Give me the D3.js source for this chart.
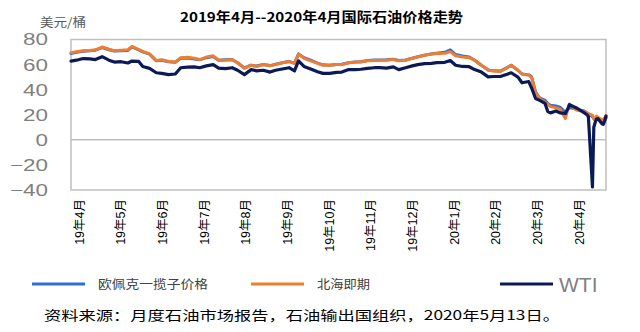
<!DOCTYPE html>
<html><head><meta charset="utf-8">
<script src="https://cdn.jsdelivr.net/npm/d3@7"></script>
<style>
html,body{margin:0;padding:0;background:#fff;}
svg{display:block;}
</style></head>
<body><svg id="c" width="640" height="332"></svg>
<script>
const dates = ["2019-04-01","2019-04-05","2019-04-10","2019-04-15","2019-04-19","2019-04-24","2019-04-29","2019-05-03","2019-05-08","2019-05-13","2019-05-16","2019-05-21","2019-05-24","2019-05-29","2019-06-03","2019-06-07","2019-06-12","2019-06-17","2019-06-21","2019-06-26","2019-07-01","2019-07-05","2019-07-10","2019-07-15","2019-07-19","2019-07-24","2019-07-29","2019-08-02","2019-08-07","2019-08-12","2019-08-16","2019-08-21","2019-08-26","2019-08-30","2019-09-04","2019-09-09","2019-09-13","2019-09-16","2019-09-20","2019-09-25","2019-09-30","2019-10-04","2019-10-09","2019-10-14","2019-10-18","2019-10-23","2019-10-28","2019-11-01","2019-11-06","2019-11-11","2019-11-15","2019-11-20","2019-11-25","2019-11-29","2019-12-04","2019-12-09","2019-12-13","2019-12-18","2019-12-23","2019-12-27","2020-01-02","2020-01-06","2020-01-10","2020-01-15","2020-01-20","2020-01-24","2020-01-29","2020-02-03","2020-02-07","2020-02-12","2020-02-17","2020-02-20","2020-02-25","2020-02-28","2020-03-04","2020-03-06","2020-03-09","2020-03-12","2020-03-16","2020-03-18","2020-03-20","2020-03-24","2020-03-27","2020-03-31","2020-04-02","2020-04-03","2020-04-07","2020-04-09","2020-04-14","2020-04-16","2020-04-17","2020-04-20","2020-04-21","2020-04-22","2020-04-23","2020-04-24","2020-04-27","2020-04-28","2020-04-29","2020-04-30"];

const brent = [69.4,70.3,71,71.3,71.8,74,72.2,71,71.5,71.8,74.5,72,70.5,68.5,63.2,63.8,62.5,62,65.5,65.8,65,64,66,67,63.5,63.5,63.8,61.5,57,59.5,58.5,60,59,60,61.5,62.5,61,68.3,65,63,61,59.5,59.5,60,60,61.5,62,62,63,63.3,63.5,63.5,64,63,63.5,65,66,67.5,68.5,68.8,69,70.3,67,66,65.5,63.5,59.5,55.5,54.8,54.5,57.5,59.5,55.5,52.5,51.5,50,37.5,33,30,28.5,26.5,25.5,24.5,17,25,28.5,24.5,23.5,22.5,21.5,21,19.5,17,16.5,19,18,16,16.3,17.5,19.5];

const opec = [68.8,69.8,70.7,71,71.5,73.5,71.8,70.8,71,71.3,74.2,71.8,70.2,68.3,63,63.5,62.2,61.8,65,65.3,64.5,63.8,65.5,66.5,63.5,63.8,64,61.5,57.3,59.5,58.8,60,59.2,60.3,61.5,62.5,61,68.5,65.5,63.5,61.2,59.8,59.5,60,60.2,61.5,62,62.2,63.2,63.6,63.7,63.8,64.3,63.3,63.7,65,66.2,67.5,68.5,69,69.8,71.8,68,66.8,66,63.5,59.5,55.8,55,54.8,57.6,59.5,55.5,52.5,51.8,50.5,38,33.5,31.5,29,27.5,27,26,22,24.5,25.5,25,24,23,21.5,20.5,18.5,16.8,15.5,17,16.5,15.5,14,15.5,17.5];

const wti = [62.8,63.5,64.8,64.5,64,66.3,63.5,62,62.3,61.3,62.8,62.5,58.5,57,53.5,53,52,52.5,57.5,58,58.2,57.5,59,60,57.2,56.8,57.5,55.5,52,56,55,55.5,54,55.5,56.5,57.5,55,63,58.5,56.5,54.3,53,53,53.8,54,56,56,56.3,57,57.5,57.5,57.2,58.2,56,57.5,59,60,60.8,61,61.5,61.8,63.2,59.5,58.5,58.3,56,54,50.2,50.5,50.5,52.3,53.5,50,45.5,46.5,41.5,33,31.5,29,22.5,21.5,23,21.5,21,25.3,28,26,25,21.5,20,18.3,-37.6,10,13.8,16.5,17,12.8,12.3,15,18.8];

const monthLabels = ["19年4月","19年5月","19年6月","19年7月","19年8月","19年9月","19年10月","19年11月","19年12月","20年1月","20年2月","20年3月","20年4月"];
const yTicks = [-40,-20,0,20,40,60,80];
const seriesNames = ["欧佩克一揽子价格","北海即期","WTI"];

const parse = d3.timeParse("%Y-%m-%d");
const T = dates.map(parse);

const svg = d3.select("#c");
const L = 71, R = 606, TOP = 39.5, BOT = 190;

const x = d3.scaleTime().domain([parse("2019-04-01"), parse("2020-04-30")]).range([L, R]);
const y = d3.scaleLinear().domain([-40, 80]).range([BOT, TOP]);

// title
svg.append("text").attr("x", 180).attr("y", 21.5)
  .attr("font-family","'Noto Sans CJK SC'").attr("font-weight","bold").attr("font-size",13.5)
  .attr("textLength", 283).attr("lengthAdjust","spacingAndGlyphs")
  .attr("fill","#000").text("2019年4月--2020年4月国际石油价格走势");
svg.append("text").attr("x", 40).attr("y", 27)
  .attr("font-family","'Noto Sans CJK SC'").attr("font-size",12).attr("fill","#595959")
  .attr("textLength", 46).attr("lengthAdjust","spacingAndGlyphs")
  .text("美元/桶");

// frame
svg.append("rect").attr("x", L).attr("y", TOP).attr("width", R-L).attr("height", BOT-TOP)
  .attr("fill","none").attr("stroke","#bfbfbf").attr("stroke-width",1.5);
svg.append("line").attr("x1",L).attr("x2",R).attr("y1",y(0)).attr("y2",y(0))
  .attr("stroke","#bfbfbf").attr("stroke-width",1.5);

// y tick labels
svg.append("g").selectAll("text").data(yTicks).join("text")
  .attr("transform", d => `translate(48,${y(d)}) scale(1.36,1)`)
  .attr("text-anchor","end").attr("dy","0.36em")
  .attr("font-family","'Liberation Sans'").attr("font-size",16.5)
  .attr("fill","#7f7f7f").text(d => d3.format("d")(d));

// x labels
const xl = d3.scalePoint().domain(monthLabels).range([79, 579]);
svg.append("g").selectAll("text").data(monthLabels).join("text")
  .attr("transform", d => `translate(${xl(d)+4.5},199) rotate(-90)`)
  .attr("text-anchor","end")
  .attr("font-family","'Liberation Sans','Noto Sans CJK SC'").attr("font-size",12.5)
  .attr("fill","#000").text(d => d);

// lines
const colors = ["#2e6fcf","#ed7d31","#0b1a57"];
const datasets = [opec, brent, wti];
const line = d3.line().x((d,i) => x(T[i])).y(d => y(d)).curve(d3.curveLinear);
datasets.forEach((ds, k) => {
  svg.append("path").datum(ds).attr("d", line)
    .attr("fill","none").attr("stroke", colors[k]).attr("stroke-width", k===2 ? 3.2 : 3)
    .attr("stroke-linejoin","round").attr("stroke-linecap","round");
});

// legend
const legX = [32, 251, 500];
const legTxtW = [110, 53, null];
seriesNames.forEach((n, k) => {
  svg.append("line").attr("x1", legX[k]).attr("x2", legX[k]+53).attr("y1", 284).attr("y2", 284)
    .attr("stroke", colors[k]).attr("stroke-width", 3);
  const t = svg.append("text").attr("x", legX[k] + (k===2 ? 59 : 66)).attr("y", k===2 ? 291.5 : 289)
    .attr("fill", k===2 ? "#808080" : "#404040").text(n);
  if (k === 2) {
    t.attr("font-family","'Liberation Sans'").attr("font-size",21);
  } else {
    t.attr("font-family","'Noto Sans CJK SC'").attr("font-size",12.5)
     .attr("textLength", legTxtW[k]).attr("lengthAdjust","spacingAndGlyphs");
  }
});

// source
svg.append("text").attr("x", 44).attr("y", 320)
  .attr("font-family","'Noto Sans CJK SC'").attr("font-size",13).attr("fill","#000")
  .attr("textLength", 516).attr("lengthAdjust","spacingAndGlyphs")
  .text("资料来源：月度石油市场报告，石油输出国组织，2020年5月13日。");
</script></body></html>
